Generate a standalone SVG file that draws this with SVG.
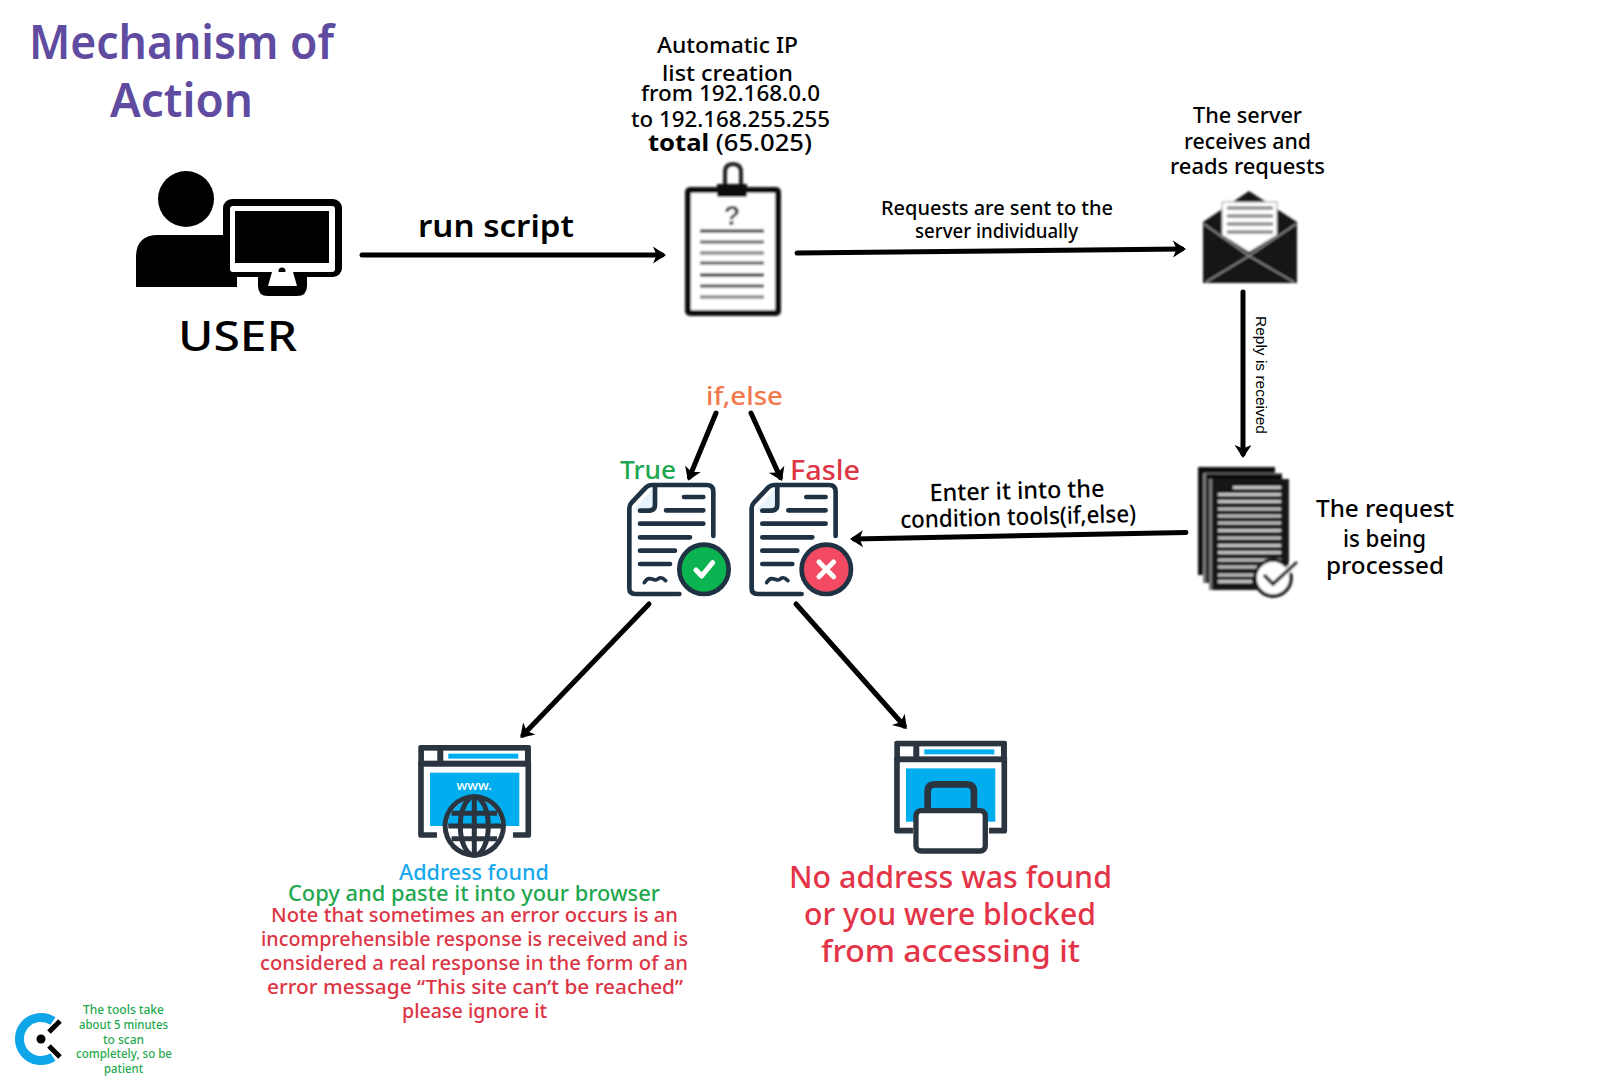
<svg xmlns="http://www.w3.org/2000/svg" width="1620" height="1080" viewBox="0 0 1620 1080">
<style>
text{font-family:"Noto Sans","Open Sans","DejaVu Sans",sans-serif;fill:#000;font-weight:500}
.conn{fill:none;stroke:#000;stroke-width:5;stroke-linecap:round;marker-end:url(#arrow)}
.dk{fill:none;stroke:#1f3244;stroke-width:14;stroke-linecap:round;stroke-linejoin:round}
.fr{fill:#2b3540}
.red{fill:#dc3545}
.grn{fill:#1fa84f}
</style>
<defs>
<marker id="arrow" markerUnits="userSpaceOnUse" markerWidth="20" markerHeight="20" refX="12" refY="10" orient="auto"><path d="M3,1.5 L16,10 L3,18.500 L6.500,10z" fill="#000"/></marker>
<filter id="soft" x="-5%" y="-5%" width="110%" height="110%"><feGaussianBlur stdDeviation="0.8"/></filter>
<g id="doc">
<path d="M155,345H320Q340,345 340,365V498M238,672H105Q88,672 88,655V410L155,345" fill="#fff" stroke="none"/>
<path d="M165,348V405Q165,422 145,422H100L165,348z" fill="#e8f3fc"/>
<path class="dk" d="M340,498V365Q340,345 320,345H155Q145,345 138,352L95,398Q88,405 88,415V655Q88,672 105,672H238"/>
<path class="dk" d="M165,345V405Q165,422 145,422H120M252,381H310M198,421H310M120,461H310M120,502H270M120,542H225M120,582H210"/>
<path d="M133,638C145,618 155,628 165,630C175,632 178,612 197,632" fill="none" stroke="#1f3244" stroke-width="11" stroke-linecap="round"/>
</g>
<g id="browser">
<rect class="fr" x="0" y="0" width="338" height="65" rx="6"/>
<path d="M8,50H330M8,50V270H56M330,50V270H284" fill="none" stroke="#2b3540" stroke-width="17" stroke-linejoin="round"/>
<rect x="17" y="17" width="40" height="30" fill="#fff"/>
<rect x="75" y="17" width="245" height="30" fill="#fff"/>
<rect x="90" y="26" width="210" height="15" fill="#00aeef"/>
<rect x="35" y="83" width="268" height="160" fill="#00aeef"/>
</g>
<clipPath id="globeTop"><rect x="600" y="220" width="210" height="98"/></clipPath>
</defs>

<g id="title">
<text x="29" y="59" font-size="46" style="fill:#5f4b9f;font-weight:600" textLength="305" lengthAdjust="spacingAndGlyphs">Mechanism of</text>
<text x="110" y="117" font-size="46" style="fill:#5f4b9f;font-weight:600" textLength="143" lengthAdjust="spacingAndGlyphs">Action</text>
</g>

<g id="connectors">
<line class="conn" x1="362" y1="255" x2="662" y2="255"/>
<line class="conn" x1="797" y1="253" x2="1182" y2="249"/>
<line class="conn" x1="1243" y1="292" x2="1243" y2="454"/>
<line class="conn" x1="1186" y1="532.5" x2="854" y2="539"/>
<line class="conn" x1="716" y1="413" x2="689.5" y2="477"/>
<line class="conn" x1="751" y1="413" x2="780.3" y2="477.4"/>
<line class="conn" x1="649" y1="604" x2="523" y2="735"/>
<line class="conn" x1="796" y1="604" x2="904.3" y2="726"/>
</g>

<g id="connector-labels">
<text x="418" y="237" font-size="31" style="font-weight:600" textLength="156" lengthAdjust="spacingAndGlyphs">run script</text>
<text x="881" y="215" font-size="20" textLength="232" lengthAdjust="spacingAndGlyphs">Requests are sent to the</text>
<text x="915" y="238" font-size="20" textLength="163" lengthAdjust="spacingAndGlyphs">server individually</text>
<text transform="translate(1255.500,316) rotate(90)" font-size="14" style="font-family:'Liberation Sans',Arial,sans-serif;font-weight:400" textLength="118" lengthAdjust="spacingAndGlyphs">Reply is received</text>
<g transform="rotate(-1.5 1018 512)">
<text x="930" y="499" font-size="24" textLength="175" lengthAdjust="spacingAndGlyphs">Enter it into the</text>
<text x="900" y="525" font-size="24" textLength="236" lengthAdjust="spacingAndGlyphs">condition tools(if,else)</text>
</g>
</g>

<g id="user">
<circle cx="186" cy="199" r="28"/>
<path d="M136,287V257Q136,235 158,235H237V287z"/>
<rect x="223" y="199" width="119" height="78" rx="9" stroke="#fff" stroke-width="0"/>
<rect x="230" y="206" width="105" height="66" rx="3" fill="#fff"/>
<rect x="235" y="211" width="94" height="52"/>
<circle cx="282" cy="271" r="3.5"/>
<path d="M258,276H307V286Q307,296 297,296H268Q258,296 258,286z"/>
<path d="M272,272H293L297,286H268z" fill="#fff"/>
<text x="178" y="351" font-size="42" textLength="119" lengthAdjust="spacingAndGlyphs">USER</text>
</g>

<g id="ip-list">
<text x="657" y="53" font-size="21" textLength="141" lengthAdjust="spacingAndGlyphs">Automatic IP</text>
<text x="662" y="81" font-size="21" textLength="131" lengthAdjust="spacingAndGlyphs">list creation</text>
<text x="641" y="101" font-size="22" textLength="179" lengthAdjust="spacingAndGlyphs">from 192.168.0.0</text>
<text x="631" y="127" font-size="22" textLength="199" lengthAdjust="spacingAndGlyphs">to 192.168.255.255</text>
<text x="648" y="151" font-size="23" textLength="164" lengthAdjust="spacingAndGlyphs"><tspan style="font-weight:700">total</tspan> (65.025)</text>
<g filter="url(#soft)">
<rect x="688" y="190" width="90" height="123" fill="#fff" stroke="#111" stroke-width="6" rx="2"/>
<path d="M725,186V172Q725,164 733,164Q741,164 741,172V186" fill="none" stroke="#222" stroke-width="4"/>
<rect x="717" y="184" width="30" height="13" fill="#111"/>
<path d="M700,231H764" stroke="#333" stroke-width="3"/>
<path d="M700,242H764" stroke="#777" stroke-width="3.5"/>
<path d="M700,253H764" stroke="#999" stroke-width="4"/>
<path d="M700,263H764" stroke="#555" stroke-width="3"/>
<path d="M700,275H764" stroke="#222" stroke-width="3"/>
<path d="M700,286H764" stroke="#666" stroke-width="3.5"/>
<path d="M700,297H764" stroke="#999" stroke-width="4"/>
<text x="732" y="225" font-size="27" text-anchor="middle" style="fill:#444;font-weight:700;font-family:'Liberation Sans',Arial,sans-serif">?</text>
</g>
</g>

<g id="server">
<text x="1193" y="123" font-size="21" textLength="109" lengthAdjust="spacingAndGlyphs">The server</text>
<text x="1184" y="149" font-size="21" textLength="127" lengthAdjust="spacingAndGlyphs">receives and</text>
<text x="1170" y="174" font-size="21" textLength="155" lengthAdjust="spacingAndGlyphs">reads requests</text>
<g filter="url(#soft)">
<path d="M1203,222L1249,191L1297,222V283H1203z" fill="#161616"/>
<path d="M1204,224L1249,256L1296,224M1206,282L1249,256L1294,282" fill="none" stroke="#8a8a8a" stroke-width="1.6"/>
<path d="M1222,202H1277V235L1249,252L1222,235z" fill="#fff" stroke="#999" stroke-width="1"/>
<path d="M1227,208H1273M1227,216H1273M1227,224H1273M1227,232H1273" stroke="#8c8c8c" stroke-width="3.5"/>
</g>
</g>

<g id="processing">
<g filter="url(#soft)">
<rect x="1198" y="467" width="77" height="108" fill="#111"/>
<rect x="1203" y="473" width="79" height="110" fill="#777"/>
<rect x="1206" y="474" width="76" height="109" fill="#111"/>
<rect x="1209" y="479" width="80" height="111" fill="#777"/>
<rect x="1212" y="479" width="77" height="111" fill="#161616"/>
<path d="M1233,487.500H1281M1218,494.500H1281M1218,501.500H1281M1218,509H1281M1218,516H1281M1218,523H1281M1218,530.500H1281M1218,538H1281M1218,545.500H1281M1218,552.500H1281M1218,560H1281M1218,567H1262M1218,575H1262M1218,581.500H1252" stroke="#c4c4c4" stroke-width="3"/>
<circle cx="1273" cy="578" r="18" fill="#fff" stroke="#151515" stroke-width="3.500"/>
<path d="M1264,575L1273,584L1297,562" fill="none" stroke="#fff" stroke-width="7"/>
<path d="M1264,575L1273,584L1297,562" fill="none" stroke="#151515" stroke-width="3.500"/>
</g>
<text x="1316" y="517" font-size="24" textLength="138" lengthAdjust="spacingAndGlyphs">The request</text>
<text x="1343" y="547" font-size="24" textLength="83" lengthAdjust="spacingAndGlyphs">is being</text>
<text x="1326" y="574" font-size="24" textLength="118" lengthAdjust="spacingAndGlyphs">processed</text>
</g>

<g id="branch">
<text x="706" y="405" font-size="26" style="fill:#f2784b" textLength="77" lengthAdjust="spacingAndGlyphs">if,else</text>
</g>

<g id="true-doc">
<text class="grn" x="620" y="479" font-size="25" textLength="56" lengthAdjust="spacingAndGlyphs">True</text>
<g transform="translate(600,370) scale(.3333)">
<use href="#doc"/>
<circle cx="312" cy="598" r="74" fill="#0bb351" stroke="#1f3244" stroke-width="14"/>
<path d="M288,600L305,618L338,578" fill="none" stroke="#fff" stroke-width="15" stroke-linecap="round" stroke-linejoin="round"/>
</g>
</g>

<g id="false-doc">
<text class="red" x="790" y="480" font-size="27" textLength="70" lengthAdjust="spacingAndGlyphs">Fasle</text>
<g transform="translate(722.300,370) scale(.3333)">
<use href="#doc"/>
<circle cx="312" cy="598" r="74" fill="#f24a63" stroke="#1f3244" stroke-width="14"/>
<path d="M290,576L334,620M334,576L290,620" fill="none" stroke="#fff" stroke-width="15" stroke-linecap="round"/>
</g>
</g>

<g id="address-found">
<g transform="translate(418.300,745) scale(.3333)">
<use href="#browser"/>
<text x="168" y="135" font-size="40" text-anchor="middle" style="fill:#fff">www.</text>
<g transform="translate(-535,-75)">
<circle cx="703" cy="318" r="95" fill="#2b3540"/>
<circle cx="703" cy="318" r="80" fill="#fff"/>
<circle cx="703" cy="318" r="80" fill="#00aeef" clip-path="url(#globeTop)"/>
<path d="M703,230V405M625,318H785M635,280H771M635,356H771" stroke="#2b3540" stroke-width="15" fill="none"/>
<ellipse cx="703" cy="318" rx="42" ry="88" fill="none" stroke="#2b3540" stroke-width="15"/>
</g>
</g>
<text x="399" y="880" font-size="21" style="fill:#17a8ee" textLength="150" lengthAdjust="spacingAndGlyphs">Address found</text>
<text class="grn" x="288" y="901" font-size="22" textLength="372" lengthAdjust="spacingAndGlyphs">Copy and paste it into your browser</text>
<text class="red" x="271" y="922" font-size="20" textLength="407" lengthAdjust="spacingAndGlyphs">Note that sometimes an error occurs is an</text>
<text class="red" x="261" y="946" font-size="20" textLength="427" lengthAdjust="spacingAndGlyphs">incomprehensible response is received and is</text>
<text class="red" x="260" y="970" font-size="20" textLength="428" lengthAdjust="spacingAndGlyphs">considered a real response in the form of an</text>
<text class="red" x="267" y="994" font-size="20" textLength="416" lengthAdjust="spacingAndGlyphs">error message “This site can’t be reached”</text>
<text class="red" x="402" y="1018" font-size="20" textLength="145" lengthAdjust="spacingAndGlyphs">please ignore it</text>
</g>

<g id="no-address">
<g transform="translate(894.300,740.700) scale(.3333)">
<use href="#browser"/>
<path d="M100,208V153Q100,131 122,131H217Q239,131 239,153V208" fill="#00aeef" stroke="#2b3540" stroke-width="20"/>
<rect x="65" y="210" width="208" height="121" rx="15" fill="#fff" stroke="#2b3540" stroke-width="16"/>
</g>
<text x="789" y="888" font-size="31" style="fill:#e33448" textLength="323" lengthAdjust="spacingAndGlyphs">No address was found</text>
<text x="804" y="925" font-size="31" style="fill:#e33448" textLength="292" lengthAdjust="spacingAndGlyphs">or you were blocked</text>
<text x="821" y="962" font-size="31" style="fill:#e33448" textLength="259" lengthAdjust="spacingAndGlyphs">from accessing it</text>
</g>

<g id="timer-note">
<path d="M53,1021A21.600,21.600 0 1 0 53,1057" fill="none" stroke="#0ea5e9" stroke-width="9"/>
<circle cx="41" cy="1039" r="4.500"/>
<path d="M49,1032L60,1021M49,1046L60,1057" stroke="#000" stroke-width="5"/>
<text class="grn" x="83" y="1014" font-size="12" textLength="81" lengthAdjust="spacingAndGlyphs">The tools take</text>
<text class="grn" x="79" y="1029" font-size="12" textLength="89" lengthAdjust="spacingAndGlyphs">about 5 minutes</text>
<text class="grn" x="103" y="1044" font-size="12" textLength="41" lengthAdjust="spacingAndGlyphs">to scan</text>
<text class="grn" x="76" y="1058" font-size="12" textLength="96" lengthAdjust="spacingAndGlyphs">completely, so be</text>
<text class="grn" x="104" y="1073" font-size="12" textLength="39" lengthAdjust="spacingAndGlyphs">patient</text>
</g>
</svg>
